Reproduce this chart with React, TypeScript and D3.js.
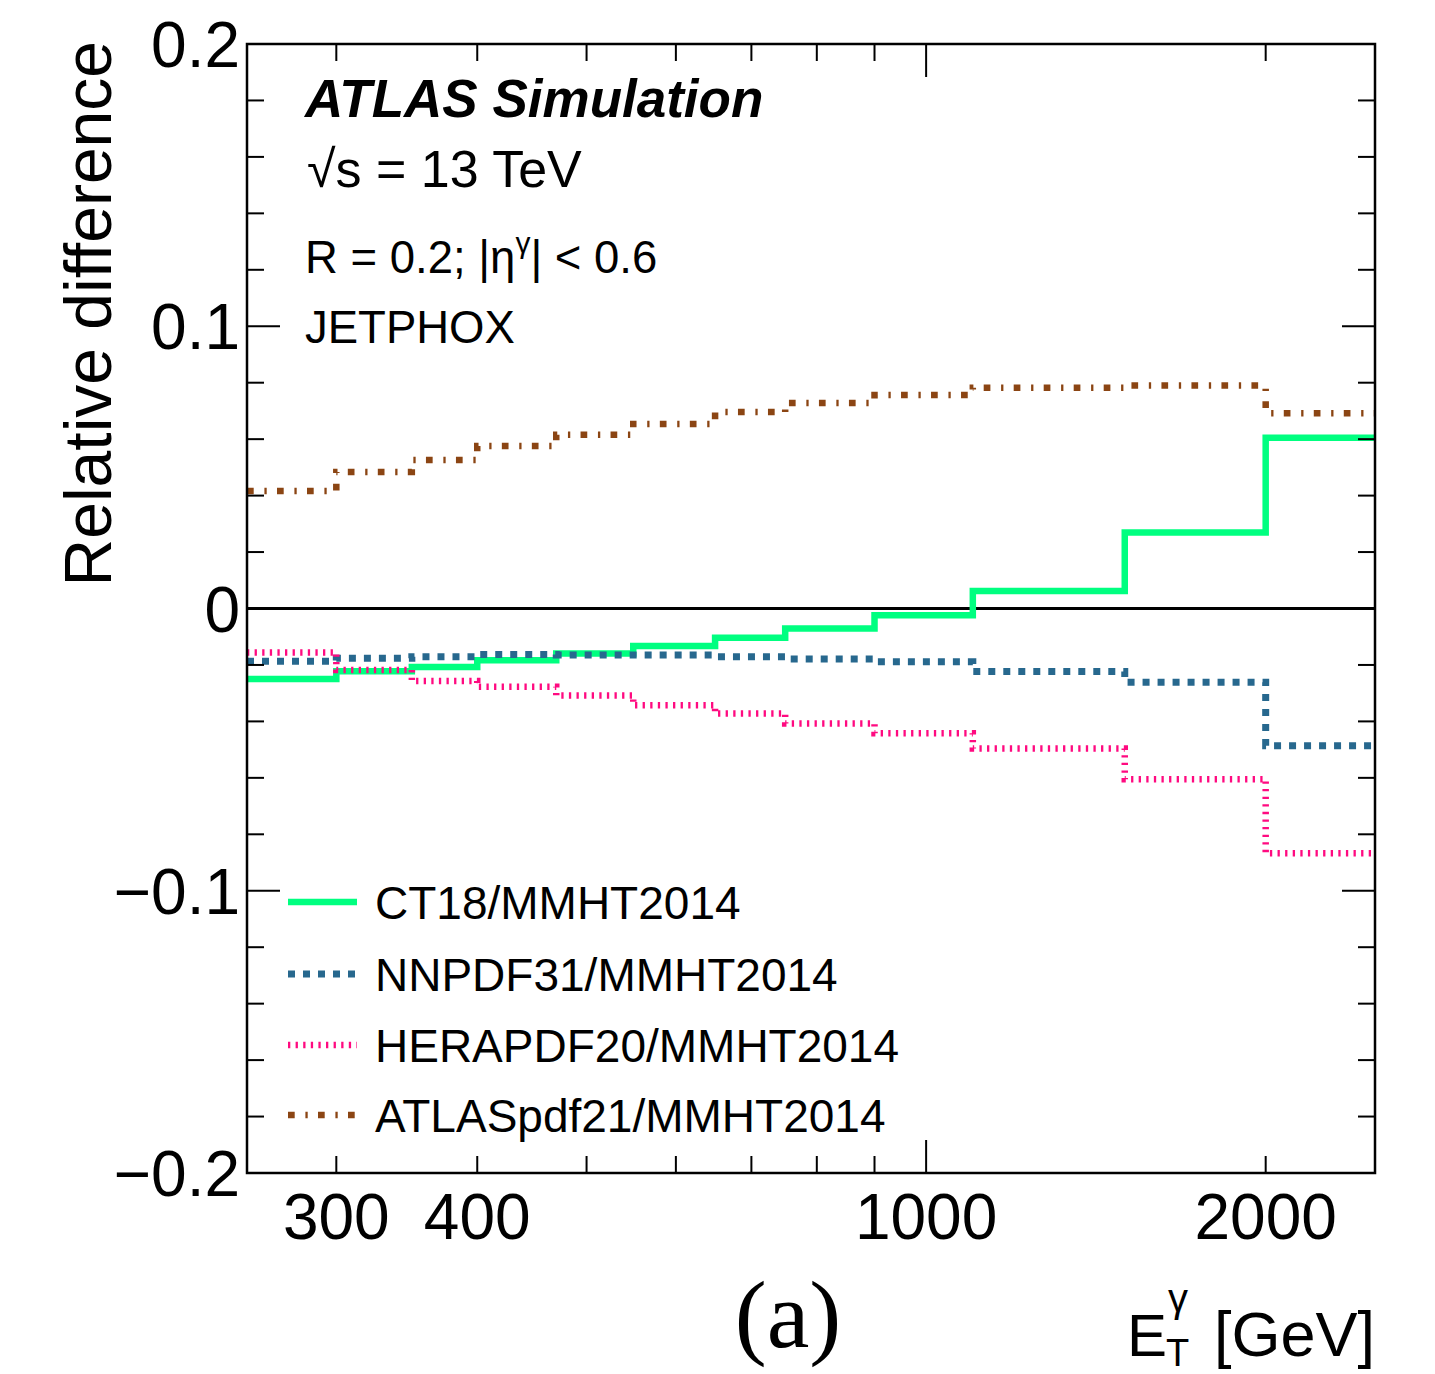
import React from "react";
import * as d3 from "d3";

// Bin edges in E_T^gamma [GeV]
const binEdges = [250, 300, 350, 400, 470, 550, 650, 750, 900, 1100, 1500, 2000, 2500];

// Relative difference to MMHT2014, one value per bin
const ct18 = [-0.025, -0.0222, -0.0207, -0.0183, -0.0159, -0.0133, -0.0104, -0.0071, -0.0024, 0.0062, 0.0269, 0.0605];
const nnpdf31 = [-0.0187, -0.0176, -0.0171, -0.0163, -0.0165, -0.0165, -0.0171, -0.0179, -0.0189, -0.0223, -0.0261, -0.0486];
const herapdf20 = [-0.0156, -0.0218, -0.0257, -0.0277, -0.0308, -0.0343, -0.0372, -0.0407, -0.0442, -0.0496, -0.0605, -0.0867];
const atlaspdf21 = [0.0416, 0.0484, 0.0526, 0.0576, 0.0616, 0.0654, 0.0696, 0.0728, 0.0756, 0.0782, 0.079, 0.0692];

const seriesNames = ["CT18/MMHT2014", "NNPDF31/MMHT2014", "HERAPDF20/MMHT2014", "ATLASpdf21/MMHT2014"];

const yTickLabels = ["0.2", "0.1", "0", "\u22120.1", "\u22120.2"];
const yTickValues = [0.2, 0.1, 0, -0.1, -0.2];
const xTickLabels = ["300", "400", "1000", "2000"];
const xTickValues = [300, 400, 1000, 2000];
const xMinorTicks = [300, 400, 500, 600, 700, 800, 900, 2000];
const xMajorTicks = [1000];

const W = 1435;
const H = 1374;
const left = 247;
const right = 1375;
const top = 44;
const bottom = 1173;

const SANS = "'Liberation Sans', Arial, Helvetica, sans-serif";
const SERIF = "'Liberation Serif', 'Times New Roman', serif";

const styles = [
  { color: "#00ff80", dash: "none", width: 6.5 },
  { color: "#27688e", dash: "7 8", width: 7 },
  { color: "#ff0a80", dash: "2.3 5.3", width: 6.5 },
  { color: "#8b4513", dash: "6.7 10.7 2.3 10.3", width: 6.5 },
];

export default function App() {
  const x = d3.scaleLog().domain([250, 2500]).range([left, right]);
  const y = d3.scaleLinear().domain([-0.2, 0.2]).range([bottom, top]);

  const line = d3
    .line<[number, number]>()
    .x((d) => x(d[0]))
    .y((d) => y(d[1]))
    .curve(d3.curveStepAfter);

  const toPts = (vals: number[]): [number, number][] => {
    const pts: [number, number][] = vals.map((v, i) => [binEdges[i], v]);
    pts.push([binEdges[binEdges.length - 1], vals[vals.length - 1]]);
    return pts;
  };

  const series = [ct18, nnpdf31, herapdf20, atlaspdf21];

  const yTicks = d3.range(-10, 11).map((i) => i * 0.02);
  const legendY = [902, 974, 1045, 1115];

  return (
    <svg
      width={W}
      height={H}
      style={{ position: "absolute", left: 0, top: 0, background: "#fff" }}
    >
      <rect x={0} y={0} width={W} height={H} fill="#fff" />
      <defs>
        <clipPath id="plotClip">
          <rect x={left} y={top} width={right - left} height={bottom - top} />
        </clipPath>
      </defs>

      {/* zero reference line */}
      <line x1={left} x2={right} y1={y(0)} y2={y(0)} stroke="#000" strokeWidth={3} />

      {/* step histograms */}
      <g clipPath="url(#plotClip)">
        {series.map((vals, i) => (
          <path
            key={i}
            d={line(toPts(vals)) || ""}
            fill="none"
            stroke={styles[i].color}
            strokeWidth={styles[i].width}
            strokeDasharray={styles[i].dash}
            strokeLinecap="butt"
            strokeLinejoin="miter"
          />
        ))}
      </g>

      {/* y ticks, both sides */}
      {yTicks.map((v, i) => {
        const major = Math.abs(Math.round(v * 100) % 10) === 0;
        const len = major ? 33 : 17;
        const yy = y(v);
        return (
          <g key={"yt" + i}>
            <line x1={left} x2={left + len} y1={yy} y2={yy} stroke="#000" strokeWidth={2} />
            <line x1={right} x2={right - len} y1={yy} y2={yy} stroke="#000" strokeWidth={2} />
          </g>
        );
      })}

      {/* x ticks, top and bottom */}
      {[...xMinorTicks.map((v) => ({ v, len: 17 })), ...xMajorTicks.map((v) => ({ v, len: 33 }))].map(
        (t, i) => (
          <g key={"xt" + i}>
            <line x1={x(t.v)} x2={x(t.v)} y1={bottom} y2={bottom - t.len} stroke="#000" strokeWidth={2} />
            <line x1={x(t.v)} x2={x(t.v)} y1={top} y2={top + t.len} stroke="#000" strokeWidth={2} />
          </g>
        )
      )}

      {/* frame */}
      <rect
        x={left}
        y={top}
        width={right - left}
        height={bottom - top}
        fill="none"
        stroke="#000"
        strokeWidth={2.5}
      />

      {/* y tick labels */}
      {yTickValues.map((v, i) => (
        <text
          key={"yl" + i}
          x={240}
          y={y(v) + 23}
          textAnchor="end"
          fontFamily={SANS}
          fontSize={64}
          fill="#000"
        >
          {yTickLabels[i]}
        </text>
      ))}

      {/* x tick labels */}
      {xTickValues.map((v, i) => (
        <text
          key={"xl" + i}
          x={x(v)}
          y={1239}
          textAnchor="middle"
          fontFamily={SANS}
          fontSize={64}
          fill="#000"
        >
          {xTickLabels[i]}
        </text>
      ))}

      {/* y axis title */}
      <text
        transform={`translate(111, ${top - 3}) rotate(-90)`}
        textAnchor="end"
        fontFamily={SANS}
        fontSize={66}
        fill="#000"
      >
        Relative difference
      </text>

      {/* x axis title */}
      <g fontFamily={SANS} fill="#000">
        <text x={1127} y={1356} fontSize={60}>E</text>
        <text x={1166} y={1366} fontSize={38}>T</text>
        <text x={1168} y={1312} fontSize={40}>γ</text>
        <text x={1375} y={1356} fontSize={63} textAnchor="end">[GeV]</text>
      </g>

      {/* panel label */}
      <text x={788} y={1347} textAnchor="middle" fontFamily={SERIF} fontSize={96} fill="#000">
        (a)
      </text>

      {/* header */}
      <text
        x={305}
        y={117}
        fontFamily={SANS}
        fontSize={53}
        fontWeight="bold"
        fontStyle="italic"
        fill="#000"
      >
        ATLAS Simulation
      </text>
      <text x={307} y={187} fontFamily={SANS} fontSize={52} fill="#000">
        √s = 13 TeV
      </text>
      <text x={305} y={273} fontFamily={SANS} fontSize={45.5} fill="#000">
        R = 0.2; |η
        <tspan fontSize={30} dy={-20}>γ</tspan>
        <tspan dy={20}>| &lt; 0.6</tspan>
      </text>
      <text x={305} y={343} fontFamily={SANS} fontSize={45.5} fill="#000">
        JETPHOX
      </text>

      {/* legend */}
      {seriesNames.map((name, i) => (
        <g key={"lg" + i}>
          <line
            x1={288}
            x2={357}
            y1={legendY[i]}
            y2={legendY[i]}
            stroke={styles[i].color}
            strokeWidth={styles[i].width}
            strokeDasharray={styles[i].dash}
          />
          <text x={375} y={legendY[i] + 17} fontFamily={SANS} fontSize={46} fill="#000">
            {name}
          </text>
        </g>
      ))}
    </svg>
  );
}
